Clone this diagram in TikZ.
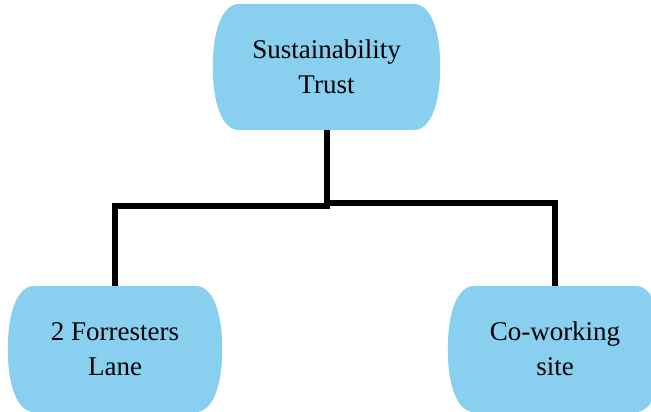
\documentclass[tikz,border=0pt]{standalone}
\usepackage{fontspec}
\setmainfont{Liberation Serif}
\usetikzlibrary{backgrounds}
\definecolor{boxblue}{RGB}{137,207,240}
\tikzset{
  unit/.style={x=1pt,y=-1pt},
  org/.style={draw=none,inner sep=0pt,align=center,minimum height=126pt,
    font=\fontsize{27}{35}\selectfont},
  conn/.style={line width=6pt,draw=black,line join=miter},
}
\newcommand\blobfill[1]{%
  \fill[boxblue] ([xshift=27pt]#1.north west) -- ([xshift=-27pt]#1.north east)
    .. controls ([xshift=-10pt]#1.north east) and ([yshift=-25pt]#1.north east) .. (#1.east)
    .. controls ([yshift=25pt]#1.south east) and ([xshift=-10pt]#1.south east) .. ([xshift=-27pt]#1.south east)
    -- ([xshift=27pt]#1.south west)
    .. controls ([xshift=10pt]#1.south west) and ([yshift=25pt]#1.south west) .. (#1.west)
    .. controls ([yshift=-25pt]#1.north west) and ([xshift=10pt]#1.north west) .. ([xshift=27pt]#1.north west)
    -- cycle;}
\begin{document}
\begin{tikzpicture}[unit]
  \useasboundingbox (0,0) rectangle (651,412);
  \clip (0,0) rectangle (651,412);
  \node[org,minimum width=227pt] (top) at (326.5,67) {Sustainability\\Trust};
  \node[org,minimum width=214pt] (left) at (115,349) {2 Forresters\\Lane};
  \node[org,minimum width=214pt] (right) at (555,349) {Co-working\\site};
  \begin{pgfonlayer}{background}
    \blobfill{top}
    \blobfill{left}
    \blobfill{right}
  \end{pgfonlayer}
  \draw[conn] (top.south) -- ([yshift=-76pt]top.south) -| (left.north);
  \draw[conn] ([yshift=-73pt]top.south) -| (right.north);
\end{tikzpicture}
\end{document}
